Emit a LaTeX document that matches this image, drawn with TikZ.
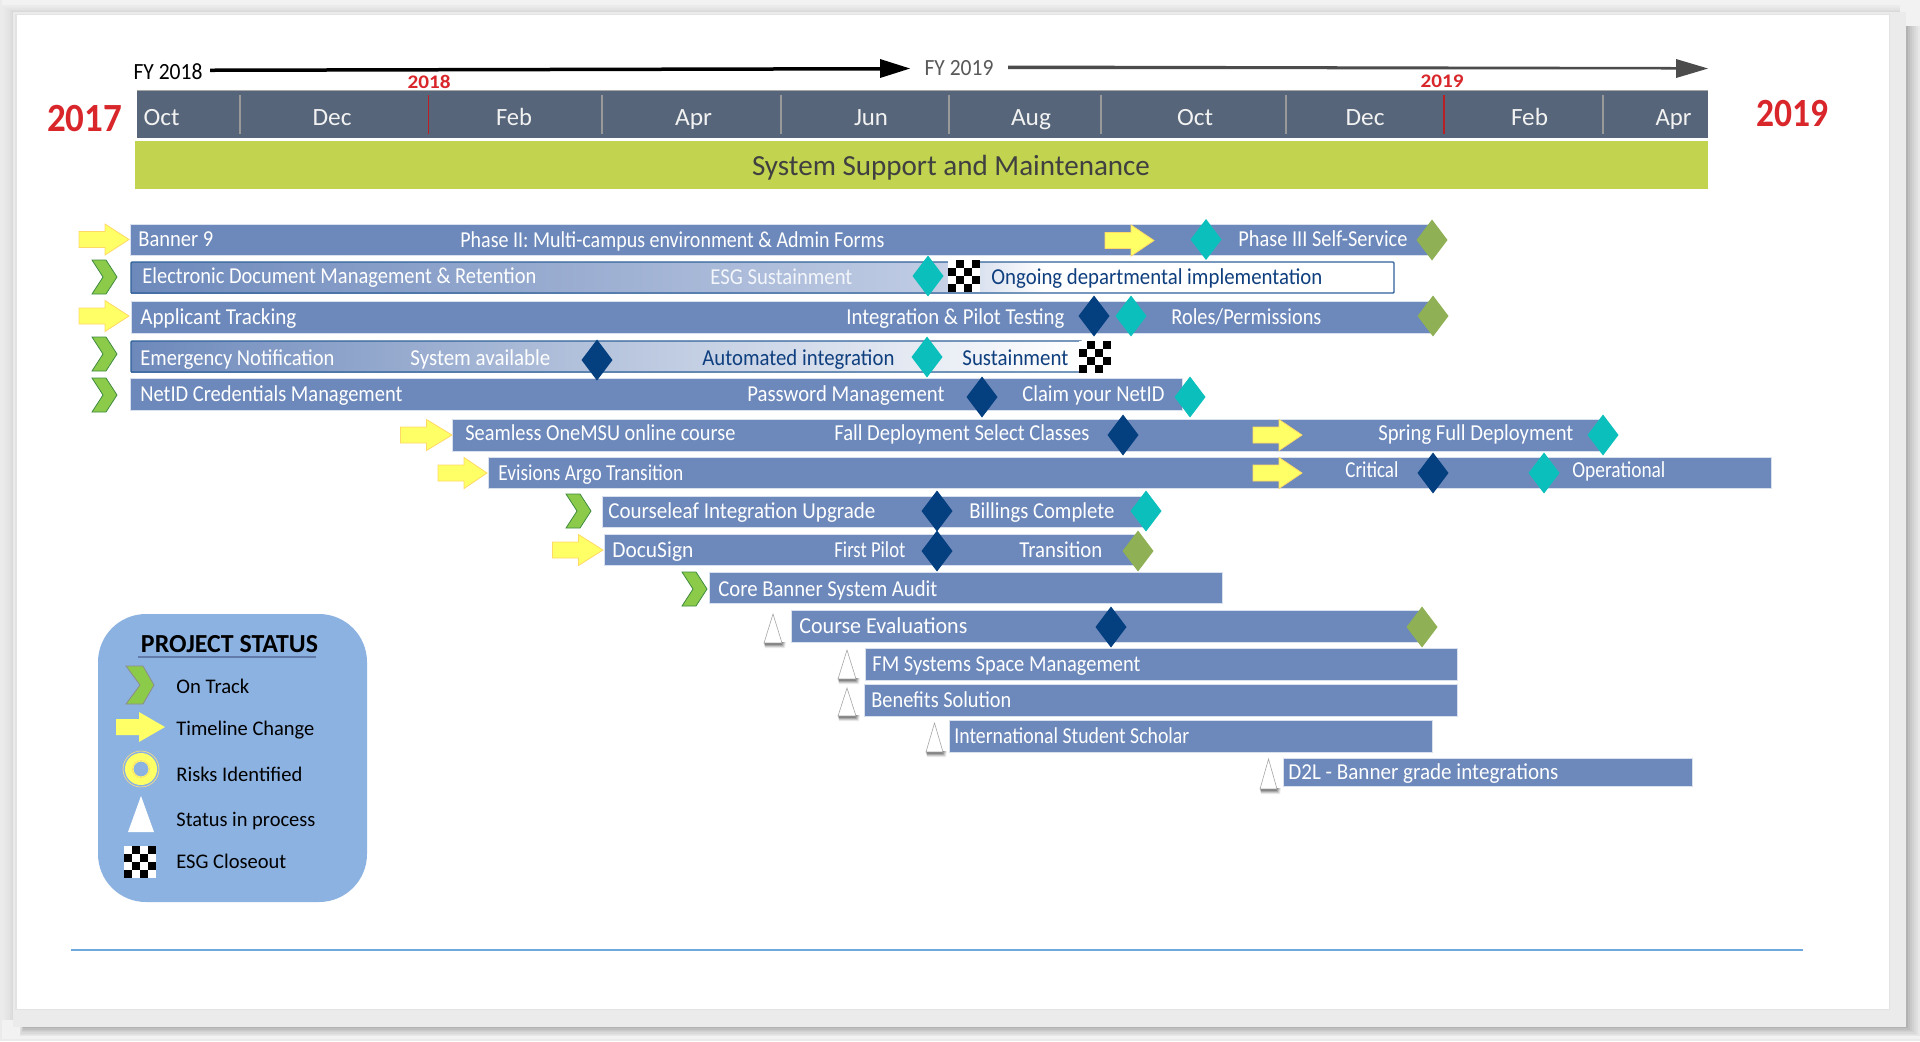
\documentclass[tikz,border=0pt]{standalone}
\usepackage{fontspec}
\usepackage{graphicx}
\setmainfont{Carlito}
\definecolor{barblue}{HTML}{6D89BB}
\definecolor{barpale}{HTML}{BFCBE3}
\definecolor{barline}{HTML}{2F6299}
\definecolor{slate}{HTML}{566579}
\definecolor{limeb}{HTML}{C1D34F}
\definecolor{teald}{HTML}{0BC0BC}
\definecolor{navyd}{HTML}{043F80}
\definecolor{greend}{HTML}{8FB054}
\definecolor{chev}{HTML}{8CCB4A}
\definecolor{chevl}{HTML}{3F8A3F}
\definecolor{yell}{HTML}{FFFF66}
\definecolor{yelll}{HTML}{FFD966}
\definecolor{legendb}{HTML}{8CB2E1}
\definecolor{redt}{HTML}{D9262B}
\definecolor{navyt}{HTML}{0F3F7F}
\definecolor{rulec}{HTML}{6FA8DC}
% fitted text: width in reference pixels (1px = 0.5pt)
\newcommand{\ft}[2]{\resizebox{#1\dimexpr0.5pt\relax}{\height}{#2}}
\tikzset{
  x=0.5pt,y=-0.5pt,
  lbl/.style={anchor=west,inner sep=0pt,yshift=-0.9pt,text height=7pt,text depth=2pt,font=\fontsize{11.4}{12}\selectfont,text=white},
  mon/.style={anchor=center,inner sep=0pt,yshift=-1.2pt,text height=8pt,text depth=2pt,font=\fontsize{12.4}{13}\selectfont,text=white!95!black},
  nvy/.style={lbl,text=navyt},
  leg/.style={lbl,text=black,font=\fontsize{10.4}{12}\selectfont},
  bar/.style={fill=barblue,draw=white!75!barblue,line width=0.4pt},
}
\newcommand{\dm}[4]{\fill[#4] (#2-15.5,#3) -- (#2,#3-20.5) -- (#2+15.5,#3) -- (#2,#3+20.5) -- cycle;}
\newcommand{\ya}[3]{\draw[fill=yell,draw=yelll,line width=0.4pt] (#1,#3-8) -- (#1+26,#3-8) -- (#1+26,#3-15.5) -- (#2,#3) -- (#1+26,#3+15.5) -- (#1+26,#3+8) -- (#1,#3+8) -- cycle;}
\newcommand{\chv}[2]{\draw[fill=chev,draw=chevl,line width=0.4pt] (#1,#2-17) -- (#1+14,#2-17) -- (#1+25,#2) -- (#1+14,#2+17) -- (#1,#2+17) -- (#1+11,#2) -- cycle;}
\newcommand{\tri}[4]{%
 \foreach \o/\a in {5/0.08,4/0.12,3/0.16,2/0.2,1/0.22}{\fill[black,opacity=\a] (#1+1-\o*0.3,#4-1) -- (#2+\o-1,#4-1) -- (#2+\o-2,#4+\o) -- (#1+1,#4+\o) -- cycle;}
 \draw[fill=white,draw=black!35,line width=0.3pt] (#1,#4) -- (#1/2+#2/2,#3) -- (#2,#4) -- cycle;}
\newcommand{\chk}[2]{%
 \fill[white] (#1,#2) rectangle (#1+32,#2+32);
 \foreach \i/\j in {1/0,3/0,0/1,2/1,1/2,3/2,0/3,2/3}{\fill[black] (#1+\i*8,#2+\j*8) rectangle (#1+\i*8+8,#2+\j*8+8);}}
\begin{document}
\begin{tikzpicture}
\useasboundingbox (0,0) rectangle (1920,1041);
% page and frame shadow
\fill[black!8] (0,0) rectangle (1920,1041);
\fill[black!5] (2,0) rectangle (1920,1039);
\foreach \o/\c in {11/8,9/9,7/10,5/11,3/13,1/15}{\fill[black!\c] (13-\o,12-\o*0.6) rectangle (1900,1020);}
\foreach \o/\c in {14/9,12/12,10/15,8/18,6/21,4/25,2/30,0/35}{\fill[black!\c] (24-\o*0.3,26) rectangle (1906+\o,1027+\o*0.65);}
\fill[black!8] (13,12) rectangle (1906,1027);
\fill[black!11] (15,14) rectangle (1889.6,1009.6);
\fill[white] (17,15) rectangle (1889,1009);
% FY arrows
\fill[black] (210,68.5) -- (880,67) -- (880,59) -- (910,68.5) -- (880,78) -- (880,70.5) -- (210,72) -- cycle;
\node[anchor=center,inner sep=0pt,font=\fontsize{11.6}{13}\selectfont] (fya) at (168,72) {\ft{69}{FY 2018}};
\node[anchor=center,inner sep=0pt,font=\fontsize{11.6}{13}\selectfont,text=black!65] (fyb) at (959,68) {\ft{69}{FY 2019}};
\fill[black!70] (1008,65.5) -- (1676,67) -- (1676,59) -- (1708,68.5) -- (1676,78) -- (1676,69.5) -- (1008,69) -- cycle;
% month band
\fill[slate] (137,90) rectangle (1708,138);
\draw[black!35,line width=0.4pt] (137,90) -- (1708,90);
\foreach \x in {240,602,781,949,1101,1286,1603}{\draw[black!40!white,line width=0.8pt] (\x,95) -- (\x,134);}
\foreach \x in {428.5,1444}{\draw[redt!85!black,line width=0.9pt] (\x,95) -- (\x,134);}
\node[mon] (m1) at (161.5,117.5) {\ft{36}{Oct}};
\node[mon] (m2) at (332,117.5) {\ft{39}{Dec}};
\node[mon] (m3) at (514,117.5) {\ft{36}{Feb}};
\node[mon] (m4) at (693.5,117.5) {\ft{37}{Apr}};
\node[mon] (m5) at (871,117.5) {\ft{34}{Jun}};
\node[mon] (m6) at (1031,117.5) {\ft{40}{Aug}};
\node[mon] (m7) at (1195,117.5) {\ft{36}{Oct}};
\node[mon] (m8) at (1365,117.5) {\ft{39}{Dec}};
\node[mon] (m9) at (1529.5,117.5) {\ft{37}{Feb}};
\node[mon] (m10) at (1673.5,117.5) {\ft{36}{Apr}};
\node[anchor=center,inner sep=0pt,text=redt,font=\bfseries\fontsize{9.6}{10}\selectfont] (ya) at (429,81.5) {\ft{43}{2018}};
\node[anchor=center,inner sep=0pt,text=redt,font=\bfseries\fontsize{9.6}{10}\selectfont] (yb) at (1442,81.5) {\ft{43}{2019}};
\node[anchor=center,inner sep=0pt,text=redt,font=\bfseries\fontsize{20}{22}\selectfont] (yc) at (84.5,119) {\ft{75}{2017}};
\node[anchor=center,inner sep=0pt,text=redt,font=\bfseries\fontsize{20}{22}\selectfont] (yd) at (1792,114) {\ft{72}{2019}};
% lime band
\fill[limeb] (135,141) rectangle (1708,189);
\node[anchor=center,inner sep=0pt,yshift=-1.2pt,text height=9pt,text depth=3pt,text=black!75,font=\fontsize{14.6}{16}\selectfont] (sys) at (951,167) {\ft{398}{System Support and Maintenance}};
% bars
\path[bar] (130,224) rectangle (1432,255);
\path[left color=barblue,right color=barpale,draw=none] (131,262) rectangle (930,293);
\path[left color=barpale,right color=white,draw=none] (930,262) rectangle (1045,293);
\draw[barline,line width=0.7pt,rounded corners=0.5pt] (131,262) rectangle (1394,293);
\path[bar] (131,301) rectangle (1432,333);
\path[left color=barblue,right color=white,draw=none] (131,341) rectangle (1082,372);
\draw[barline,line width=0.7pt,rounded corners=0.5pt] (131,341) rectangle (1082,372);
\path[bar] (130.5,378) rectangle (1182,410);
\path[bar] (452.5,419) rectangle (1604,451);
\path[bar] (488.5,457) rectangle (1771,488);
\path[bar] (602,496) rectangle (1145,527);
\path[bar] (604,534) rectangle (1139,565);
\path[bar] (709,572) rectangle (1222,603);
\path[bar] (791,610) rectangle (1420,642);
\path[bar] (865,648) rectangle (1457,680);
\path[bar] (864,684) rectangle (1457,716);
\path[bar] (949.5,720) rectangle (1432,752);
\path[bar] (1283,758) rectangle (1692,786);
% status markers
\ya{79}{129}{239.5}
\ya{79}{129}{316}
\ya{1105}{1154}{240.5}
\ya{400.5}{452}{435}
\ya{438}{487}{473}
\ya{1253}{1302}{435}
\ya{1253}{1302}{473}
\ya{552.5}{603}{550}
\chv{92}{277}
\chv{92}{354}
\chv{92}{395}
\chv{566}{511}
\chv{682}{589}
\tri{764}{782}{614}{643}
\tri{838}{856}{650}{679}
\tri{838}{856}{688}{716}
\tri{926}{943}{723}{752}
\tri{1260}{1277}{759}{789}
% checkers
\chk{948}{260}
\chk{1079}{341}
% diamonds
\dm{d1}{1206}{239.5}{teald}
\dm{d2}{1432}{240}{greend}
\dm{d3}{928}{276}{teald}
\dm{d4}{1094}{316}{navyd}
\dm{d5}{1131}{316}{teald}
\dm{d6}{1433}{316}{greend}
\dm{d7}{597}{360}{navyd}
\dm{d8}{927}{357}{teald}
\dm{d9}{982}{397}{navyd}
\dm{d10}{1190}{397}{teald}
\dm{d11}{1123}{435}{navyd}
\dm{d12}{1603}{435}{teald}
\dm{d13}{1433}{473}{navyd}
\dm{d14}{1544}{473}{teald}
\dm{d15}{937}{511}{navyd}
\dm{d16}{1146}{511}{teald}
\dm{d17}{937}{551}{navyd}
\dm{d18}{1138}{551}{greend}
\dm{d19}{1111}{627}{navyd}
\dm{d20}{1422}{627}{greend}
% bar labels
\node[lbl] (t1) at (138,240) {\ft{75}{Banner 9}};
\node[lbl] (t2) at (460,241) {\ft{424}{Phase II:  Multi-campus environment \& Admin  Forms}};
\node[lbl] (t3) at (1238,240) {\ft{169}{Phase III Self-Service}};
\node[lbl] (t4) at (142,277) {\ft{394}{Electronic Document Management \& Retention}};
\node[lbl,text=white!92!barblue] (t5) at (710,278) {\ft{142}{ESG Sustainment}};
\node[nvy] (t6) at (991,277.5) {\ft{331}{Ongoing departmental implementation}};
\node[lbl] (t7) at (140,318) {\ft{156}{Applicant Tracking}};
\node[lbl] (t8) at (846,318) {\ft{218}{Integration \& Pilot Testing}};
\node[lbl] (t9) at (1171,318) {\ft{150}{Roles/Permissions}};
\node[lbl] (t10) at (140,359) {\ft{194}{Emergency Notification}};
\node[lbl] (t11) at (410,359) {\ft{140}{System available}};
\node[nvy] (t12) at (702,359) {\ft{192}{Automated integration}};
\node[nvy] (t13) at (962,359) {\ft{106}{Sustainment}};
\node[lbl] (t14) at (140,395) {\ft{262}{NetID Credentials Management}};
\node[lbl] (t15) at (747,395) {\ft{197}{Password Management}};
\node[lbl] (t16) at (1022,395) {\ft{142}{Claim your NetID}};
\node[lbl] (t17) at (465,434) {\ft{270}{Seamless OneMSU online course}};
\node[lbl] (t18) at (834,434) {\ft{255}{Fall Deployment Select Classes}};
\node[lbl] (t19) at (1378,434) {\ft{195}{Spring Full Deployment}};
\node[lbl] (t20) at (498,474) {\ft{185}{Evisions Argo Transition}};
\node[lbl] (t21) at (1345,471) {\ft{53}{Critical}};
\node[lbl] (t22) at (1572,471) {\ft{93}{Operational}};
\node[lbl] (t23) at (608,512) {\ft{267}{Courseleaf  Integration Upgrade}};
\node[lbl] (t24) at (969,512) {\ft{145}{Billings Complete}};
\node[lbl] (t25) at (612,551) {\ft{81}{DocuSign}};
\node[lbl] (t26) at (834,551) {\ft{71}{First Pilot}};
\node[lbl] (t27) at (1019,551) {\ft{83}{Transition}};
\node[lbl] (t28) at (718,590) {\ft{219}{Core Banner System Audit}};
\node[lbl] (t29) at (799,627) {\ft{168}{Course Evaluations}};
\node[lbl] (t30) at (872,665) {\ft{268}{FM Systems Space Management}};
\node[lbl] (t31) at (871,701) {\ft{140}{Benefits Solution}};
\node[lbl] (t32) at (954,737) {\ft{235}{International Student Scholar}};
\node[lbl] (t33) at (1288,773) {\ft{270}{D2L - Banner  grade integrations}};
% legend
\fill[legendb,rounded corners=24pt] (98,614) rectangle (367,902);
\node[anchor=center,inner sep=0pt,font=\bfseries\fontsize{13}{15}\selectfont] (lt) at (229.5,644) {\ft{177}{PROJECT STATUS}};
\draw[black!10!barblue,line width=0.7pt] (138,657) -- (316,657);
\draw[fill=chev,draw=black!45,line width=0.4pt] (126,666) -- (143,666) -- (154,685) -- (143,704) -- (126,704) -- (140,685) -- cycle;
\fill[yell] (116,719) -- (139,719) -- (139,712) -- (165,727) -- (139,742) -- (139,735) -- (116,735) -- cycle;
\draw[yelll!85!white,line width=0.3pt] (141,769) circle (18);
\fill[yell,even odd rule] (141,769) circle (16) (141,769) circle (7.5);
\draw[yelll,line width=0.3pt] (141,769) circle (8.5);
\fill[white] (128,832) -- (141,796) -- (154,832) -- cycle;
\chk{124}{846}
\node[leg] (l1) at (176,687) {\ft{73}{On Track}};
\node[leg] (l2) at (176,729) {\ft{138}{Timeline Change}};
\node[leg] (l3) at (176,775) {\ft{126}{Risks Identified}};
\node[leg] (l4) at (176,820) {\ft{139}{Status  in process}};
\node[leg] (l5) at (176,862) {\ft{110}{ESG Closeout}};
% bottom rule
\draw[rulec,line width=0.6pt] (71,950) -- (1803,950);
\end{tikzpicture}
\end{document}
